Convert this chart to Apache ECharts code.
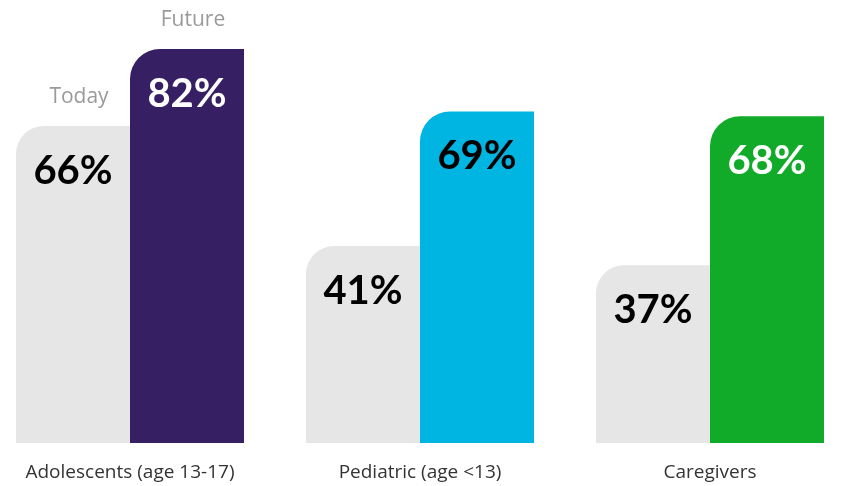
<!DOCTYPE html>
<html>
<head>
<meta charset="utf-8">
<script src="https://cdn.jsdelivr.net/npm/echarts@6/dist/echarts.min.js"></script>
<style>
  html, body { margin: 0; padding: 0; background: #fff; }
  #chart { width: 841px; height: 486px; }
</style>
</head>
<body>
<div id="chart"></div>
<script>
const categories = ['Adolescents (age 13-17)', 'Pediatric (age <13)', 'Caregivers'];
const seriesNames = ['Today', 'Future'];
const todayValues = [66, 41, 37];
const futureValues = [82, 69, 68];
const futureColors = ['#361f63', '#00b5e2', '#12ab29'];
const futureLabelColors = ['#ffffff', '#000000', '#ffffff'];

const chart = echarts.init(document.getElementById('chart'));

const pctLabel = {
  show: true,
  position: 'insideTop',
  distance: 25,
  formatter: '{c}%',
  fontFamily: 'Lato, sans-serif',
  fontWeight: 'bold',
  fontSize: 40,
  color: '#000'
};

const nameMark = (value, name) => ({
  symbol: 'circle',
  symbolSize: 0,
  silent: true,
  label: {
    show: true,
    position: 'top',
    distance: 18,
    offset: [6, 0],
    formatter: name,
    color: '#9a9a9a',
    fontFamily: 'Open Sans, sans-serif',
    fontSize: 21
  },
  data: [{ coord: [categories[0], value] }]
});

chart.setOption({
  animation: false,
  grid: {
    left: -15,
    width: 870,
    top: 49,
    bottom: 43,
    containLabel: false,
    outerBoundsMode: 'none'
  },
  xAxis: {
    type: 'category',
    data: categories,
    axisLine: { show: false },
    axisTick: { show: false },
    axisLabel: {
      margin: 20,
      color: '#333',
      fontFamily: 'Open Sans, sans-serif',
      fontSize: 19
    }
  },
  yAxis: {
    type: 'value',
    min: 0,
    max: 'dataMax',
    show: false,
    splitLine: { show: false }
  },
  series: [
    {
      name: seriesNames[0],
      type: 'bar',
      barWidth: 114,
      barGap: '0%',
      itemStyle: { color: '#e6e6e6', borderRadius: [28, 0, 0, 0] },
      label: pctLabel,
      markPoint: nameMark(todayValues[0], seriesNames[0]),
      data: todayValues
    },
    {
      name: seriesNames[1],
      type: 'bar',
      barWidth: 114,
      barGap: '0%',
      itemStyle: { borderRadius: [30, 0, 0, 0] },
      label: pctLabel,
      markPoint: nameMark(futureValues[0], seriesNames[1]),
      data: futureValues.map((v, i) => ({
        value: v,
        itemStyle: { color: futureColors[i] },
        label: { color: futureLabelColors[i] }
      }))
    }
  ]
});
</script>
</body>
</html>
